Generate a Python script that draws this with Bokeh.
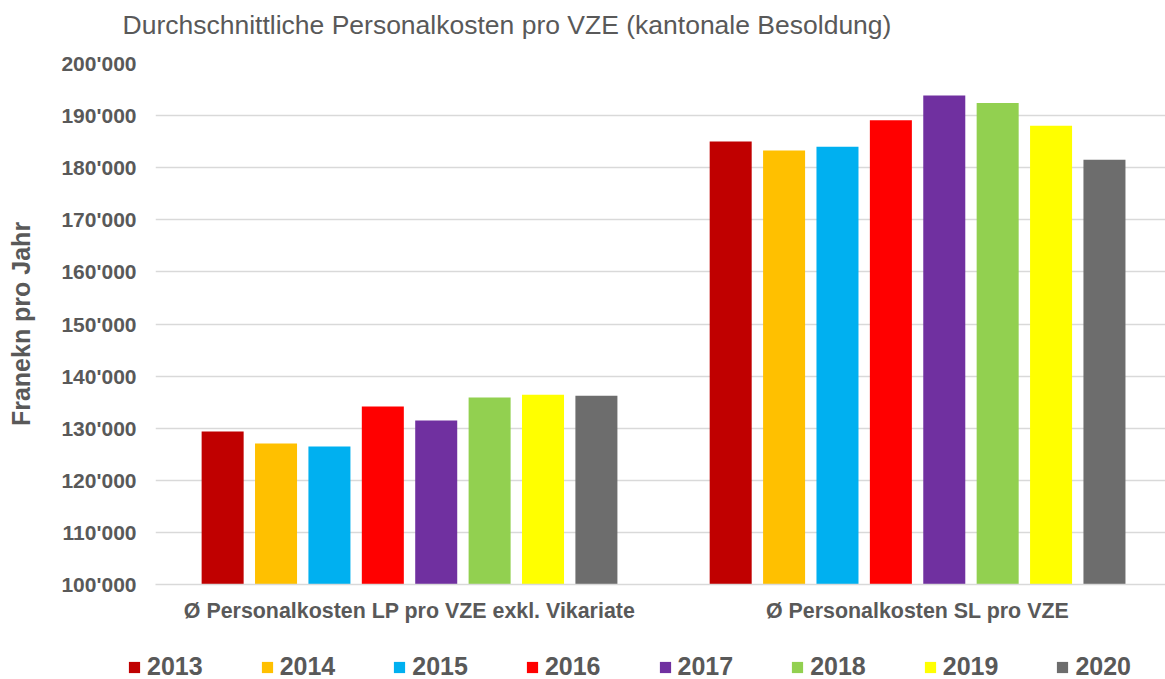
from bokeh.plotting import figure
from bokeh.layouts import column
from bokeh.models import ColumnDataSource, Range1d, FixedTicker, Legend, LegendItem, Title
from bokeh.transform import dodge
from bokeh.embed import file_html
from bokeh.resources import INLINE

# ---- data -------------------------------------------------------------
categories = ["Ø Personalkosten LP pro VZE exkl. Vikariate", "Ø Personalkosten SL pro VZE"]
years = ["2013", "2014", "2015", "2016", "2017", "2018", "2019", "2020"]
lp_values = [129370, 127070, 126500, 134150, 131470, 135870, 136440, 136250]
sl_values = [185030, 183310, 184020, 189100, 193880, 192430, 188030, 181530]
colors = ["#C00000", "#FFC000", "#00B0F0", "#FF0000", "#7030A0", "#92D050", "#FFFF00", "#6D6D6D"]
y_ticks = [100000, 110000, 120000, 130000, 140000, 150000, 160000, 170000, 180000, 190000, 200000]
y_tick_labels = ["100'000", "110'000", "120'000", "130'000", "140'000", "150'000",
                 "160'000", "170'000", "180'000", "190'000", "200'000"]
title_text = "Durchschnittliche Personalkosten pro VZE (kantonale Besoldung)"
y_label = "Franekn pro Jahr"

# ---- styling ----------------------------------------------------------
FONT = "Liberation Sans"
TXT = "#595959"
GRID = "#d9d9d9"
step = 0.1051
bar_w = 0.0827

positions = [i + 0.5 for i in range(len(categories))]

p = figure(width=1165, height=640, output_backend="svg", toolbar_location=None,
           x_range=Range1d(0, 1.988), y_range=Range1d(y_ticks[0], y_ticks[-1]),
           min_border_left=155, min_border_right=0, min_border_top=63, min_border_bottom=56,
           outline_line_color=None, background_fill_color="white", border_fill_color="white")
p.frame_align = False

sources = []
for k, yr in enumerate(years):
    src = ColumnDataSource(dict(x=positions, top=[lp_values[k], sl_values[k]]))
    sources.append(src)
    p.vbar(x=dodge("x", (k - (len(years) - 1) / 2) * step), top="top", bottom=y_ticks[0],
           width=bar_w, fill_color=colors[k], line_color=None, source=src)

# title (outer) + a blank spacer between it and the frame
p.title.text = title_text
p.title.align = "left"
p.title.offset = -33
p.title.text_font = FONT
p.title.text_font_size = "26.5px"
p.title.text_font_style = "normal"
p.title.text_color = TXT
p.title.standoff = 2
spacer = Title(text=" ", text_font_size="10px", standoff=10)
p.add_layout(spacer, "above")

# grid
p.xgrid.grid_line_color = None
p.ygrid.ticker = FixedTicker(ticks=y_ticks)
p.ygrid.grid_line_color = GRID
p.ygrid.grid_line_width = 1.5

# y axis
p.yaxis.ticker = FixedTicker(ticks=y_ticks)
p.yaxis.major_label_overrides = dict(zip(y_ticks, y_tick_labels))
p.yaxis.major_label_text_font = FONT
p.yaxis.major_label_text_font_size = "21px"
p.yaxis.major_label_text_font_style = "bold"
p.yaxis.major_label_text_color = TXT
p.yaxis.major_tick_line_color = None
p.yaxis.major_tick_out = 0
p.yaxis.minor_tick_line_color = None
p.yaxis.minor_tick_out = 0
p.yaxis.axis_line_color = None
p.yaxis.major_label_standoff = 19
p.yaxis.axis_label = y_label
p.yaxis.axis_label_text_font = FONT
p.yaxis.axis_label_text_font_size = "25px"
p.yaxis.axis_label_text_font_style = "bold"
p.yaxis.axis_label_text_color = TXT
p.yaxis.axis_label_standoff = 23

# x axis
p.xaxis.ticker = FixedTicker(ticks=positions)
p.xaxis.major_label_overrides = dict(zip(positions, categories))
p.xaxis.major_label_text_font = FONT
p.xaxis.major_label_text_font_size = "21.4px"
p.xaxis.major_label_text_font_style = "bold"
p.xaxis.major_label_text_color = TXT
p.xaxis.major_tick_line_color = None
p.xaxis.major_tick_out = 0
p.xaxis.minor_tick_line_color = None
p.xaxis.minor_tick_out = 0
p.xaxis.axis_line_color = GRID
p.xaxis.axis_line_width = 1.5
p.xaxis.major_label_standoff = 14

# ---- legend strip (same data sources, renderers hidden) ---------------
leg = figure(width=1165, height=39, output_backend="svg", toolbar_location=None,
             x_range=Range1d(0, 1.988), y_range=Range1d(0, 1),
             x_axis_location=None, y_axis_location=None,
             min_border_left=0, min_border_right=0, min_border_top=0, min_border_bottom=0,
             outline_line_color=None, background_fill_color="white", border_fill_color="white")
leg.frame_align = False
leg.xgrid.grid_line_color = None
leg.ygrid.grid_line_color = None

items = []
for k, yr in enumerate(years):
    r = leg.vbar(x="x", top="top", bottom=y_ticks[0], width=bar_w,
                 fill_color=colors[k], line_color=None, source=sources[k])
    r.visible = False
    items.append(LegendItem(label=yr, renderers=[r]))

legend = Legend(items=items, orientation="horizontal", location=(127, -2),
                glyph_width=14, glyph_height=14, label_standoff=6, spacing=57,
                padding=0, margin=0, border_line_color=None, background_fill_alpha=0,
                inactive_fill_alpha=0,
                label_text_font=FONT, label_text_font_size="25px",
                label_text_font_style="bold", label_text_color=TXT)
leg.add_layout(legend)

layout = column(p, leg, spacing=0)
open("out.html", "w").write(file_html(layout, INLINE))
